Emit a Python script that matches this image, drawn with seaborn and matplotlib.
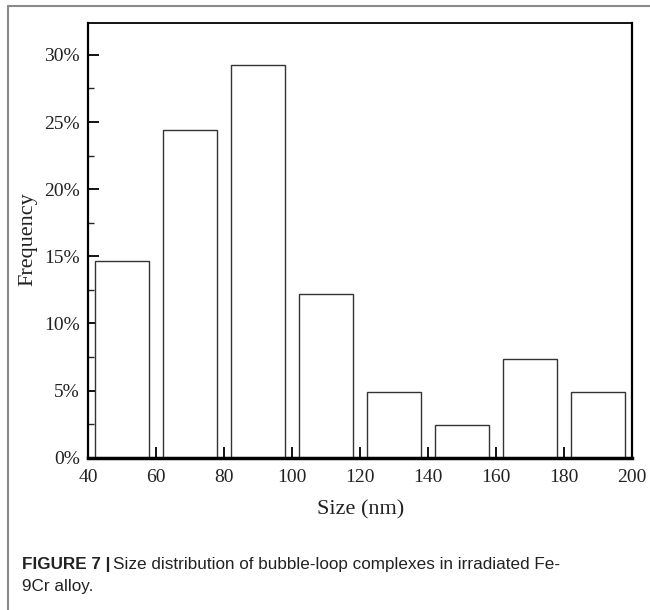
import numpy as np
import pandas as pd
import matplotlib
matplotlib.use("Agg")
import matplotlib.pyplot as plt
import seaborn as sns
from matplotlib.lines import Line2D
from matplotlib.ticker import MultipleLocator, FuncFormatter

# Data (bin centers in nm, frequency in %)
size_centers = [50, 70, 90, 110, 130, 150, 170, 190]
frequency = [14.63, 24.39, 29.27, 12.20, 4.88, 2.44, 7.32, 4.88]
bin_edges = [40, 60, 80, 100, 120, 140, 160, 180, 200]
x_ticks = [40, 60, 80, 100, 120, 140, 160, 180, 200]
y_ticks = [0, 5, 10, 15, 20, 25, 30]

sns.set_theme(style="white")
plt.rcParams['font.family'] = ['Liberation Serif', 'DejaVu Serif']

df = pd.DataFrame({"size": size_centers, "freq": frequency})

W, H = 650, 610
L, R, T, B = 88, 632, 22.7, 457.7
fig = plt.figure(figsize=(6.5, 6.1), dpi=100)
ax = fig.add_axes([L/W, 1-B/H, (R-L)/W, (B-T)/H])

sns.histplot(data=df, x="size", weights="freq", bins=bin_edges, shrink=0.8,
             color="white", edgecolor="#333333", linewidth=1.0, alpha=1, ax=ax)

ax.set_xlim(40, 200)
ax.set_ylim(0, 32.4)
ax.set_xticks(x_ticks)
ax.set_yticks(y_ticks)
ax.yaxis.set_minor_locator(MultipleLocator(2.5))
ax.yaxis.set_major_formatter(FuncFormatter(lambda v, p: f"{int(round(v))}%"))
ax.tick_params(axis="x", which="major", direction="in", length=8, width=1.3,
               labelsize=14, colors="black", pad=8, bottom=True)
ax.tick_params(axis="y", which="major", direction="in", length=8, width=1.3,
               labelsize=14, colors="black", pad=6, left=True)
ax.tick_params(axis="y", which="minor", direction="in", length=4.5, width=1.0, left=True)
for lab in ax.get_xticklabels() + ax.get_yticklabels():
    lab.set_color("#222222")

for side, lw in [("left", 1.6), ("bottom", 2.5), ("top", 1.3), ("right", 1.6)]:
    ax.spines[side].set_visible(True)
    ax.spines[side].set_color("black")
    ax.spines[side].set_linewidth(lw)

ax.set_xlabel("Size (nm)", fontsize=16, color="#222222", va="center")
ax.set_ylabel("Frequency", fontsize=16, color="#222222", va="center")
ax.xaxis.set_label_coords((361-L)/(R-L), (B-510)/(B-T))
ax.yaxis.set_label_coords((28-L)/(R-L), (B-239)/(B-T))

# outer frame
fig.add_artist(Line2D([8/W, 1.0], [1-5.5/H, 1-5.5/H], transform=fig.transFigure,
                      color="#8a8a8a", lw=1.5))
fig.add_artist(Line2D([8/W, 8/W], [0.0, 1-5.5/H], transform=fig.transFigure,
                      color="#8a8a8a", lw=1.5))

# caption
cap_font = ["Liberation Sans", "DejaVu Sans"]
cap_x = 22/W
cap_y1 = 1-565/H
cap_y2 = 1-586/H
t1 = fig.text(cap_x, cap_y1, "FIGURE 7 |", fontsize=12.3, fontweight="bold",
              family=cap_font, va="center", ha="left", color="#222222")
fig.canvas.draw()
r = fig.canvas.get_renderer()
bb = t1.get_window_extent(renderer=r)
x2 = (bb.x1 + 3) / fig.bbox.width
fig.text(x2, cap_y1, "Size distribution of bubble-loop complexes in irradiated Fe-",
         fontsize=12.3, family=cap_font, va="center", ha="left", color="#222222")
fig.text(cap_x, cap_y2, "9Cr alloy.", fontsize=12.3,
         family=cap_font, va="center", ha="left", color="#222222")

fig.savefig("out.png", dpi=100)
